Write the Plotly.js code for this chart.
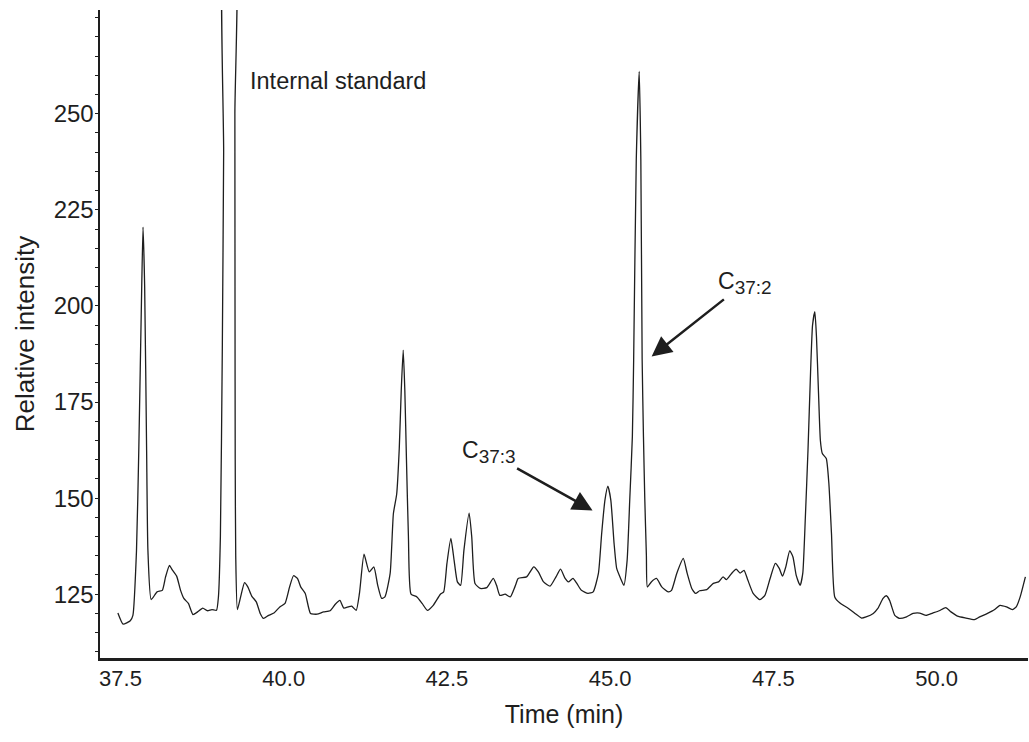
<!DOCTYPE html>
<html>
<head>
<meta charset="utf-8">
<script src="https://cdn.plot.ly/plotly-3.0.1.min.js"></script>
<style>html,body{margin:0;padding:0;background:#fff;}#chart{width:1029px;height:742px;}</style>
</head>
<body>
<div id="chart"></div>
<script>
// Retention time (min)
const time = [37.46,37.54,37.65,37.69,37.745,37.78,37.825,37.845,37.87,37.90,37.92,37.97,38.06,38.14,38.19,38.25,38.29,38.36,38.42,38.47,38.54,38.61,38.68,38.76,38.83,38.90,38.97,39.00,39.03,39.06,39.08,39.095,39.25,39.252,39.254,39.257,39.265,39.29,39.34,39.40,39.45,39.51,39.58,39.64,39.69,39.77,39.85,39.94,40.02,40.09,40.15,40.21,40.26,40.33,40.41,40.51,40.61,40.71,40.79,40.86,40.92,40.99,41.04,41.11,41.16,41.23,41.31,41.38,41.44,41.50,41.55,41.63,41.68,41.73,41.77,41.80,41.83,41.855,41.88,41.91,41.95,42.04,42.12,42.20,42.29,42.40,42.45,42.50,42.56,42.61,42.66,42.71,42.76,42.84,42.88,42.93,43.01,43.11,43.21,43.26,43.31,43.39,43.47,43.52,43.56,43.59,43.72,43.83,43.90,43.98,44.08,44.17,44.24,44.31,44.36,44.43,44.49,44.56,44.66,44.74,44.82,44.87,44.92,44.965,45.01,45.06,45.10,45.16,45.21,45.26,45.30,45.34,45.36,45.40,45.445,45.47,45.49,45.51,45.53,45.555,45.57,45.63,45.71,45.79,45.89,45.94,46.02,46.12,46.18,46.25,46.31,46.37,46.48,46.58,46.66,46.73,46.78,46.86,46.93,46.99,47.05,47.11,47.19,47.29,47.37,47.45,47.53,47.59,47.64,47.69,47.75,47.80,47.85,47.91,47.95,47.99,48.03,48.07,48.10,48.135,48.16,48.19,48.22,48.25,48.31,48.35,48.39,48.44,48.52,48.65,48.75,48.85,48.92,49.03,49.10,49.18,49.23,49.28,49.36,49.43,49.54,49.64,49.74,49.84,49.94,50.04,50.14,50.22,50.32,50.45,50.58,50.66,50.78,50.89,50.97,51.07,51.16,51.22,51.28,51.36];
// Relative intensity
const intensity = [120.1,117.2,118.1,119.5,136.4,162.4,205,220.5,205,162.4,136.4,123.6,125.6,126.0,129.5,132.5,131.4,129.7,126.0,123.9,122.6,119.7,120.4,121.4,120.7,121.0,120.8,124.3,140,190,240,300,300,250,200,160,135,121.0,124.3,128.0,126.9,124.5,123.0,120.0,118.7,119.5,120.1,121.7,122.6,126.9,129.8,129.1,126.9,125.2,120.0,119.8,120.4,120.7,122.4,123.4,121.4,121.7,121.9,120.8,125.2,135.4,130.8,132.1,127.3,123.9,124.3,130.4,146.0,151,163,178,188.5,178,160,140,125,124.3,122.6,120.8,122.1,125.0,125.6,133.0,139.5,133.8,128.2,127.3,136.4,146.1,139.9,127.8,126.5,126.7,129.1,127.3,124.7,125.0,124.3,126.0,127.8,129.1,129.5,132.1,130.8,128.2,127.1,129.5,131.5,129.1,128.2,129.1,127.8,126.0,125.2,125.6,130.4,140.8,149.5,153.1,149.5,138.2,131.7,129.1,127.3,133.8,149.5,166,186,238,261,238,186,166,150,135,126.9,128.2,129.1,126.9,125.6,126.0,130.4,134.3,130.4,126.5,125.2,125.9,126.2,127.8,128.2,129.5,128.8,130.4,131.5,130.5,131.2,128.6,125.2,123.6,124.7,129.1,133.0,131.7,129.7,132.1,136.3,134.7,129.9,127.3,130.4,145.1,162.4,183,195,198.5,192,178,165,161.6,160.3,153.8,140.8,124.3,122.7,121.3,120.0,118.8,119.1,120.0,121.3,123.9,124.6,123.4,119.5,118.7,119.1,120.0,120.1,119.5,120.1,120.7,121.5,120.4,119.3,118.8,118.4,119.1,120.0,121.0,122.1,121.7,121.0,121.7,124.3,129.5];

const xTickVals = [37.5, 40.0, 42.5, 45.0, 47.5, 50.0];
const xTickText = ["37.5", "40.0", "42.5", "45.0", "47.5", "50.0"];
const yTickVals = [125, 150, 175, 200, 225, 250];

const labelStandard = "Internal standard";
const labelC373 = "C<sub><span style='font-size:19px'>37:3</span></sub>";
const labelC372 = "C<sub><span style='font-size:19px'>37:2</span></sub>";
// label centres and arrow tip points (data units)
const c373Label = [43.138, 161.9];
const c373Tip = [44.73, 146.8];
const c372Label = [47.062, 206.0];
const c372Tip = [45.635, 186.85];
const standardText = [39.45, 258.6];

const FONT = "Liberation Sans, Arial, Helvetica, sans-serif";
const INK = "#1e1e1e";

const trace = {
  x: time, y: intensity, type: "scatter", mode: "lines",
  line: {color: INK, width: 1.3, shape: "spline", smoothing: 0.5},
  hoverinfo: "x+y", showlegend: false
};

const layout = {
  width: 1029, height: 742,
  margin: {l: 100, r: 1, t: 10, b: 84},
  paper_bgcolor: "#fff", plot_bgcolor: "#fff",
  font: {family: FONT, color: INK},
  xaxis: {
    range: [37.186, 51.4], showgrid: false, zeroline: false,
    showline: true, linecolor: INK, linewidth: 3,
    tickmode: "array", tickvals: xTickVals, ticktext: xTickText,
    ticks: "", ticklabelstandoff: -1,
    tickfont: {size: 22, family: FONT, color: INK},
    title: {text: "Time (min)", font: {size: 25, family: FONT, color: INK}, standoff: 16}
  },
  yaxis: {
    range: [108.4, 277], showgrid: false, zeroline: false,
    showline: true, linecolor: INK, linewidth: 2.5,
    tickmode: "array", tickvals: yTickVals,
    ticks: "", ticklabelstandoff: -1,
    minor: {ticks: "outside", ticklen: 3, dtick: 5, tickcolor: INK, tickwidth: 1, showgrid: false},
    tickfont: {size: 24, family: FONT, color: INK},
    title: {text: "Relative intensity", font: {size: 26, family: FONT, color: INK}, standoff: 12}
  },
  annotations: [
    {x: standardText[0], y: standardText[1], xref: "x", yref: "y", text: labelStandard,
     showarrow: false, xanchor: "left", yanchor: "middle", font: {size: 23.5, family: FONT, color: INK}},
    {x: c373Tip[0], y: c373Tip[1], xref: "x", yref: "y", ax: c373Label[0], ay: c373Label[1],
     axref: "x", ayref: "y", text: labelC373, font: {size: 23, family: FONT, color: INK},
     showarrow: true, arrowhead: 2, arrowsize: 1.6, arrowwidth: 2.5, arrowcolor: INK, standoff: 0},
    {x: c372Tip[0], y: c372Tip[1], xref: "x", yref: "y", ax: c372Label[0], ay: c372Label[1],
     axref: "x", ayref: "y", text: labelC372, font: {size: 23, family: FONT, color: INK},
     showarrow: true, arrowhead: 2, arrowsize: 1.6, arrowwidth: 2.5, arrowcolor: INK, standoff: 0}
  ]
};

Plotly.newPlot("chart", [trace], layout, {displayModeBar: false, staticPlot: true});
</script>
</body>
</html>
